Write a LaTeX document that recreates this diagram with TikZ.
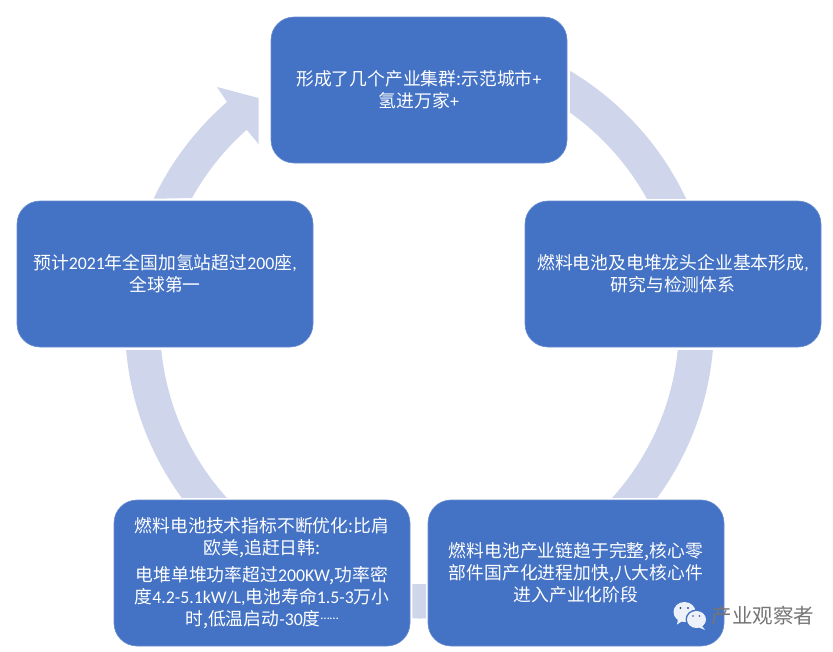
\documentclass[tikz,border=0pt]{standalone}
\usepackage{fontspec}
\newfontfamily\cjk{Noto Sans CJK SC}
\newfontfamily\latinpart{Carlito}
\newcommand{\lat}[1]{{\latinpart #1}}
\newcommand{\middots}{{\fontsize{13}{22}\selectfont\raisebox{0.42em}{\lat{……}}}}
\definecolor{boxblue}{HTML}{4472C4}
\definecolor{bandblue}{HTML}{CFD5EA}
\definecolor{markgray}{HTML}{757575}
\definecolor{bubble}{HTML}{EDF1F9}
\tikzset{
    stagebox/.style={fill=boxblue, draw=boxblue!80!white, line width=0.6pt, rounded corners=23pt,
        minimum width=296pt, minimum height=146pt, inner sep=0pt, text=white, align=center,
        font=\cjk\fontsize{17.8}{22}\selectfont},
    band/.style={fill=bandblue, even odd rule}
}
\newcommand{\ringband}{(419.5,324) circle[radius=294.5pt] (419.5,324) circle[radius=259.5pt]}

\begin{document}
\begin{tikzpicture}[x=1pt, y=-1pt]
        \useasboundingbox (0,0) rectangle (833,651);

        \foreach \xa/\ya/\xb/\yb in {570/60/700/198, 600/350/730/497, 412.3/584/426/618, 110/350/240/497} {
            \begin{scope}
                \clip (\xa,\ya) rectangle (\xb,\yb);
                \fill[band] \ringband;
            \end{scope}
        }
        \fill[bandblue] (258.5,98) -- (217,87) -- (227,102)
            arc[start angle=130.9, end angle=154.7, radius=294.5pt]
            -- (192,198)
            arc[start angle=151, end angle=131.6, radius=259.5pt]
            -- (258.5,144) -- cycle;

        \node[stagebox] (cluster) at (419,90) {形成了几个产业集群:示范城市\lat{+}\\氢进万家\lat{+}};
        \node[stagebox] (leader) at (673,274) {燃料电池及电堆龙头企业基本形成\lat{,}\\研究与检测体系};
        \node[stagebox] (chain) at (576,573) {燃料电池产业链趋于完整,核心零\\部件国产化进程加快,八大核心件\\进入产业化阶段};
        \node[stagebox] (tech) at (262,573) {燃料电池技术指标不断优化:比肩\\欧美,追赶日韩:\\[5pt]电堆单堆功率超过\lat{200KW},功率密\\度\lat{4.2-5.1kW/L,}电池寿命\lat{1.5-3}万小\\时,低温启动\lat{-30}度\middots};
        \node[stagebox] (station) at (165,274) {预计\lat{2021}年全国加氢站超过\lat{200}座\lat{,}\\全球第一};

        \fill[bubble] (684.5,612) ellipse[x radius=11pt, y radius=10pt];
        \fill[bubble] (678,619) -- (677,624.5) -- (684,620) -- cycle;
        \fill[boxblue] (696.5,619.5) ellipse[x radius=11pt, y radius=10pt];
        \fill[bubble] (696.5,619.5) ellipse[x radius=9.5pt, y radius=8.5pt];
        \fill[bubble] (702,626) -- (705,630) -- (698,627) -- cycle;
        \foreach \xe/\ye/\re in {680.5/608/1.1, 688/608/1.1, 693/616/0.9, 699.5/616/0.9} {
            \fill[boxblue!70!black] (\xe,\ye) circle[radius=\re pt];
        }
        \node[text=markgray, font=\cjk\fontsize{20.5}{24}\selectfont, inner sep=0pt] (mark) at (763,616) {产业观察者};
    \end{tikzpicture}
\end{document}
